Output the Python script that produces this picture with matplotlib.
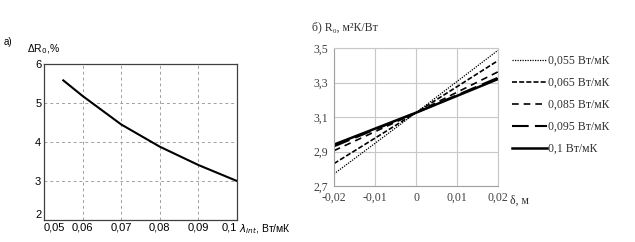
import numpy as np
import matplotlib
matplotlib.use('Agg')
import matplotlib.pyplot as plt

# panel a) deviation of R0 vs thermal conductivity
lam_a = [0.055, 0.06, 0.07, 0.08, 0.09, 0.1]
dR_a = [5.58, 5.18, 4.45, 3.88, 3.41, 3.0]

# panel b) R0 vs thickness deviation
delta = [-0.02, 0.0, 0.02]
series_labels = ['0,055 Вт/мК', '0,065 Вт/мК', '0,085 Вт/мК', '0,095 Вт/мК', '0,1 Вт/мК']
R0_055 = [2.77, 3.125, 3.487]
R0_065 = [2.83, 3.125, 3.427]
R0_085 = [2.905, 3.125, 3.362]
R0_095 = [2.93, 3.125, 3.328]
R0_100 = [2.94, 3.125, 3.320]
R0_all = [R0_055, R0_065, R0_085, R0_095, R0_100]

sans = ['Liberation Sans', 'DejaVu Sans']
serif = ['Liberation Serif', 'DejaVu Serif']

fig = plt.figure(figsize=(6.35, 2.42), dpi=100)

# ---- a)
ax1 = fig.add_axes([0.0693, 0.0909, 0.3039, 0.6446])
ax1.plot(lam_a, dR_a, color='black', lw=1.5)
ax1.set_xlim(0.05, 0.1)
ax1.set_ylim(2, 6)
xt = [0.05, 0.06, 0.07, 0.08, 0.09, 0.1]
ax1.set_xticks(xt)
xl = ax1.set_xticklabels(['0,05', '0,06', '0,07', '0,08', '0,09', '0,1'], family=sans, fontsize=8)
xl[0].set_ha('left')
xl[-1].set_ha('right')
ax1.set_yticks([2, 3, 4, 5, 6])
yl = ax1.set_yticklabels(['2', '3', '4', '5', '6'], family=sans, fontsize=8)
yl[0].set_va('bottom')
ax1.tick_params(length=0, pad=2)
ax1.grid(True, color='#a0a0a0', ls=(0, (3, 3)), lw=0.7)
for s in ax1.spines.values():
    s.set_color('#404040')
    s.set_linewidth(0.9)
fig.text(0.006, 0.815, 'а)', family=sans, fontsize=7)
fig.text(0.042, 0.785, 'ΔR$_0$,%', family=sans, fontsize=7.5)
fig.text(0.377, 0.04, r'$\lambda_{int}$, Вт/мК', family=sans, fontsize=7.5)

# ---- b)
ax2 = fig.add_axes([0.526, 0.2314, 0.2583, 0.5702])
styles = [(0, (1, 1)), (0, (3, 1.3)), (0, (4, 3)), (0, (8, 3)), '-']
widths = [0.9, 1.2, 1.2, 1.5, 1.8]
for vals, lab, st, w in zip(R0_all, series_labels, styles, widths):
    ax2.plot(delta, vals, color='black', ls=st, lw=w, label=lab)
ax2.set_xlim(-0.02, 0.02)
ax2.set_ylim(2.7, 3.5)
ax2.set_xticks([-0.02, -0.01, 0, 0.01, 0.02])
ax2.set_xticklabels(['-0,02', '-0,01', '0', '0,01', '0,02'], family=serif, fontsize=8.5, color='#404040')
ax2.set_yticks([2.7, 2.9, 3.1, 3.3, 3.5])
ax2.set_yticklabels(['2,7', '2,9', '3,1', '3,3', '3,5'], family=serif, fontsize=8.5, color='#404040')
ax2.tick_params(length=0, pad=4)
ax2.grid(True, color='#c8c8c8', lw=0.8)
for name, s in ax2.spines.items():
    s.set_color('#c8c8c8')
    s.set_linewidth(0.8)
ax2.spines['left'].set_color('#a0a0a0')
ax2.spines['bottom'].set_color('#a0a0a0')
fig.text(0.491, 0.875, 'б) R₀, м²К/Вт', family=serif, fontsize=8.5, color='#303030')
fig.text(0.803, 0.16, 'δ, м', family=serif, fontsize=8.5, color='#303030')
leg = ax2.legend(loc='upper left', bbox_to_anchor=(0.806, 0.772), bbox_transform=fig.transFigure,
                 frameon=False, prop={'family': serif, 'size': 8.5}, handlelength=3.0,
                 handletextpad=0.1, labelspacing=0.84, borderaxespad=0, borderpad=0)
for t in leg.get_texts():
    t.set_color('#303030')

fig.savefig('out.png', dpi=100, facecolor='white')
